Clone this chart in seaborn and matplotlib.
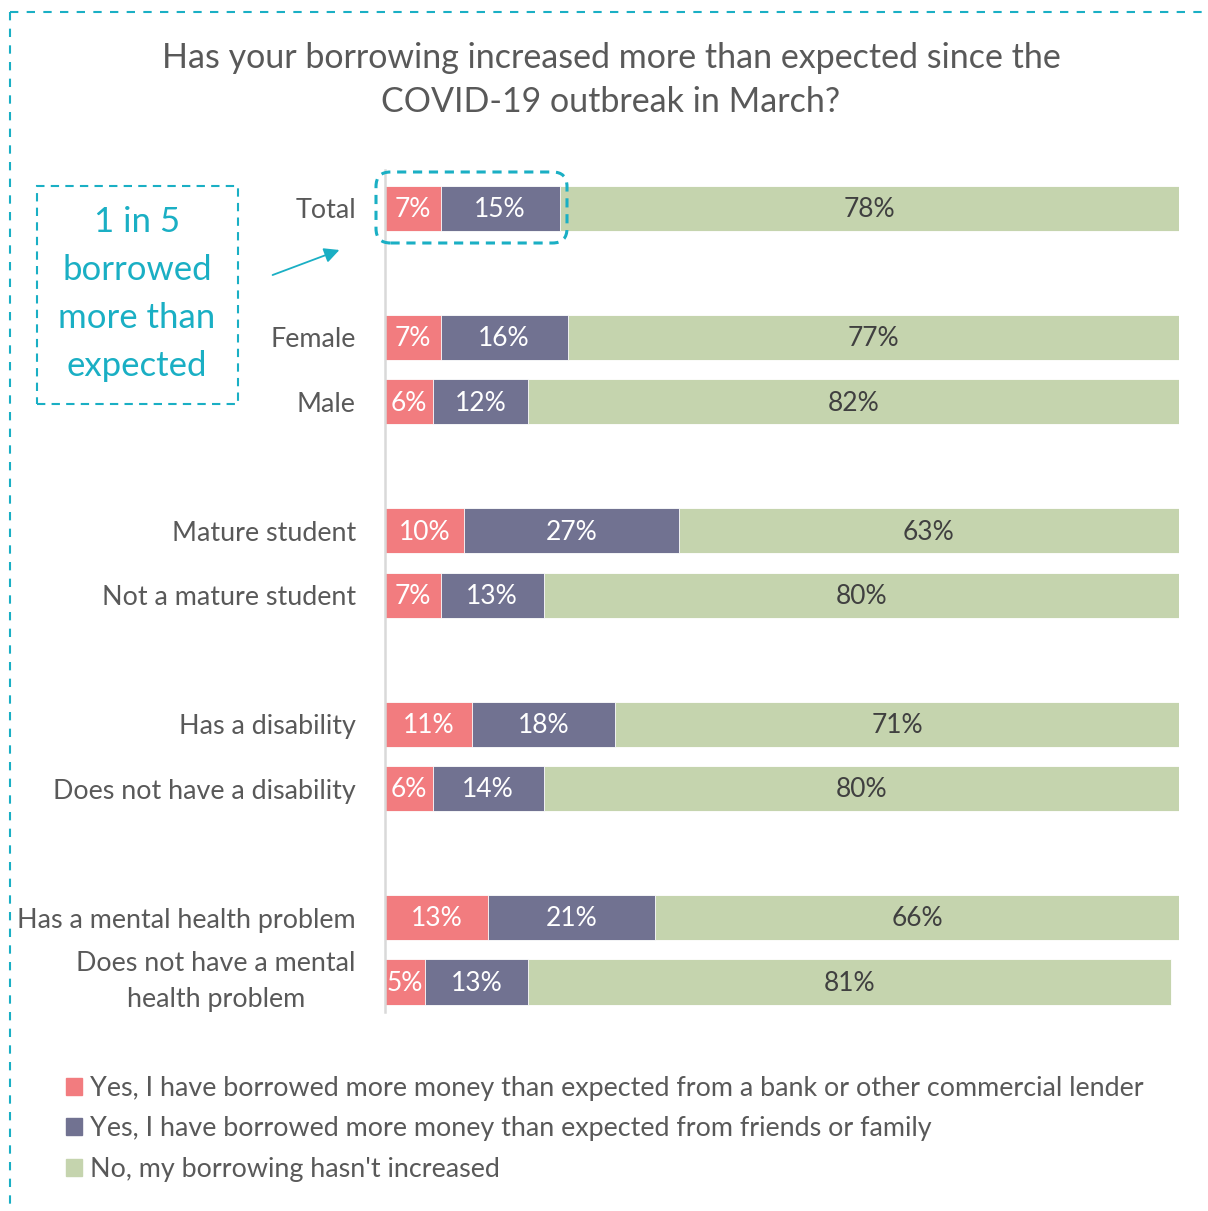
import matplotlib
matplotlib.use("Agg")
import matplotlib.pyplot as plt
import matplotlib.transforms as mtransforms
from matplotlib.lines import Line2D
from matplotlib.patches import Rectangle, FancyBboxPatch, FancyArrowPatch
import seaborn as sns
import pandas as pd

# ---- data -------------------------------------------------------------
groups = ["Total", "Female", "Male", "Mature student", "Not a mature student",
          "Has a disability", "Does not have a disability",
          "Has a mental health problem", "Does not have a mental\nhealth problem"]
bank = [7, 7, 6, 10, 7, 11, 6, 13, 5]
friends = [15, 16, 12, 27, 13, 18, 14, 21, 13]
no_increase = [78, 77, 82, 63, 80, 71, 80, 66, 81]

series_names = ["Yes, I have borrowed more money than expected from a bank or other commercial lender",
                "Yes, I have borrowed more money than expected from friends or family",
                "No, my borrowing hasn't increased"]

# row order with empty spacer rows between groups
row_order = ["Total", " ",
             "Female", "Male", "  ",
             "Mature student", "Not a mature student", "   ",
             "Has a disability", "Does not have a disability", "    ",
             "Has a mental health problem", "Does not have a mental\nhealth problem"]

RED = "#F27C7F"
PURPLE = "#717291"
GREEN = "#C5D4AE"
TEAL = "#1AAFC4"
TEXT = "#595959"

sns.set_theme(style="white")
plt.rcParams["font.family"] = ["Lato", "DejaVu Sans"]

df = pd.DataFrame({"group": groups, "bank": bank, "friends": friends, "no": no_increase})
df["c1"] = df["bank"]
df["c2"] = df["bank"] + df["friends"]
df["c3"] = df["c2"] + df["no"]

W, H = 1208, 1211
fig = plt.figure(figsize=(W / 100, H / 100), dpi=100)


def fx(px):
    return px / W


def fy(py):
    return 1 - py / H


ax = fig.add_axes([fx(385), fy(1012), fx(1179) - fx(385), fy(170) - fy(1012)])

kw = dict(y="group", order=row_order, orient="h", width=0.7, ax=ax, saturation=1,
          edgecolor="white", linewidth=0.6)
sns.barplot(data=df, x="c3", color=GREEN, **kw)
sns.barplot(data=df, x="c2", color=PURPLE, **kw)
sns.barplot(data=df, x="c1", color=RED, **kw)

ax.set_xlim(0, 100)
ax.set_ylim(12.465, -0.597)
ax.set_xlabel("")
ax.set_ylabel("")
ax.set_xticks([])
for s in ["top", "right", "bottom"]:
    ax.spines[s].set_visible(False)
ax.spines["left"].set_color("#D9D9D9")
ax.spines["left"].set_linewidth(1.8)
ax.tick_params(axis="y", length=0, pad=21)
for lab in ax.get_yticklabels():
    lab.set_fontsize(19.4)
    lab.set_color(TEXT)
    lab.set_multialignment("center")
    lab.set_linespacing(1.55)
    if "\n" in lab.get_text():
        # lift the two-line label so it sits centred on its bar
        lab.set_transform(lab.get_transform() +
                          mtransforms.ScaledTranslation(0, 6 / 72, fig.dpi_scale_trans))

# segment value labels
pos = {g: row_order.index(g) for g in groups}
for _, r in df.iterrows():
    y = pos[r["group"]]
    segs = [(0, r["bank"], "white"), (r["c1"], r["friends"], "white"), (r["c2"], r["no"], "#404040")]
    for start, val, col in segs:
        ax.text(start + val / 2, y + 0.02, f"{val}%", ha="center", va="center",
                fontsize=19, color=col)

# title
fig.text(fx(611), fy(80), "Has your borrowing increased more than expected since the\nCOVID-19 outbreak in March?",
         ha="center", va="center", fontsize=24.5, color=TEXT, linespacing=1.47)

# legend
handles = [Rectangle((0, 0), 1, 1, color=c) for c in (RED, PURPLE, GREEN)]
leg = fig.legend(handles, series_names, loc="upper left", bbox_to_anchor=(fx(66), fy(1076)),
                 frameon=False, handlelength=0.6, handleheight=0.6, handletextpad=0.3,
                 labelspacing=0.57, fontsize=19.4, borderaxespad=0, borderpad=0)
for t in leg.get_texts():
    t.set_color(TEXT)

# dashed outer frame (top and left edges)
fig.add_artist(Line2D([fx(10), fx(1208)], [fy(12), fy(12)], color=TEAL, lw=1.5, ls=(0, (4, 4))))
fig.add_artist(Line2D([fx(10), fx(10)], [fy(12), fy(1211)], color=TEAL, lw=1.5, ls=(0, (4, 4))))

# callout box
fig.add_artist(Rectangle((fx(37), fy(404)), fx(238) - fx(37), fy(186) - fy(404),
                         transform=fig.transFigure, fill=False, ec=TEAL, lw=1.5, ls=(0, (4, 3))))
fig.text(fx(137), fy(294), "1 in 5\nborrowed\nmore than\nexpected", ha="center", va="center",
         fontsize=25, color=TEAL, linespacing=1.61)

# arrow pointing at the Total bar
fig.add_artist(FancyArrowPatch((fx(270), fy(276)), (fx(342), fy(249)), transform=fig.transFigure,
                               arrowstyle="-|>,head_length=9,head_width=4.5", color=TEAL, lw=1.3))

# rounded highlight around the Total "yes" segments
fig.add_artist(FancyBboxPatch((fx(376), fy(243)), fx(567) - fx(376), fy(172) - fy(243),
                              boxstyle="round,pad=0,rounding_size=0.012", transform=fig.transFigure,
                              fill=False, ec=TEAL, lw=2.2, ls=(0, (3, 2.2))))

fig.savefig("out.png", dpi=100, facecolor="white")
